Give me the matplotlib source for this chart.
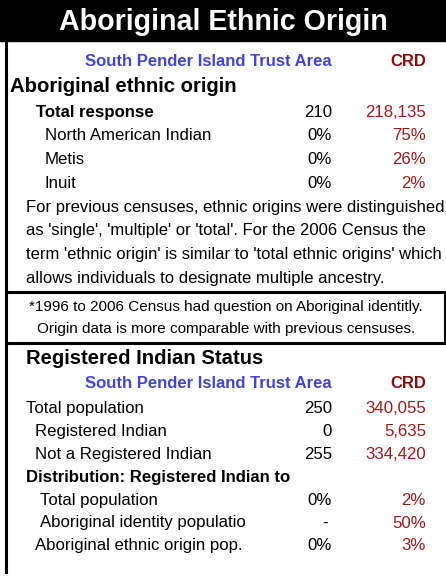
"""Aboriginal Ethnic Origin profile card: South Pender Island Trust Area vs CRD."""
import matplotlib; matplotlib.use("Agg")
import matplotlib.pyplot as plt

TITLE = "Aboriginal Ethnic Origin"
AREA = "South Pender Island Trust Area"
REGION = "CRD"

# section 1: aboriginal ethnic origin
origin_labels = ["Total response", "North American Indian", "Metis", "Inuit"]
origin_local = ["210", "0%", "0%", "0%"]
origin_crd = ["218,135", "75%", "26%", "2%"]

note_lines = ["For previous censuses, ethnic origins were distinguished",
              "as 'single', 'multiple' or 'total'. For the 2006 Census the",
              "term 'ethnic origin' is similar to 'total ethnic origins' which",
              "allows individuals to designate multiple ancestry."]
foot_lines = ["*1996 to 2006 Census had question on Aboriginal identitly.",
              "Origin data is more comparable with previous censuses."]

# section 2: registered indian status
status_labels = ["Total population", "Registered Indian", "Not a Registered Indian"]
status_local = ["250", "0", "255"]
status_crd = ["340,055", "5,635", "334,420"]

dist_labels = ["Total population", "Aboriginal identity populatio", "Aboriginal ethnic origin pop."]
dist_local = ["0%", "-", "0%"]
dist_crd = ["2%", "50%", "3%"]

BLUE, DARKRED, RED = "#4343d6", "#8b0a0a", "#9e1a1a"
plt.rcParams.update({"font.family": ["Liberation Sans", "DejaVu Sans"]})

W, H = 446, 577
fig = plt.figure(figsize=(W / 100, H / 100), dpi=100)
ax = fig.add_axes([0, 0, 1, 1])
ax.set_xlim(0, W); ax.set_ylim(H, 0); ax.axis("off")

# title bar + frame lines
ax.add_patch(plt.Rectangle((0, 0), W, 41, color="black", zorder=1))
ax.text(W / 2, 22, TITLE, color="white", fontsize=20.6, fontweight="bold", ha="center", va="center")
ax.plot([6, 6], [41, 572], color="black", lw=2.2)
ax.plot([6, 445, 445, 6], [292, 292, 343, 343], color="black", lw=2.2)

X_MID, X_CRD = 332, 426
FS = 12.1
DY = 1.5  # va=center sits a touch high for cap-height text


def header(y):
    ax.text(X_MID, y + DY, AREA, color=BLUE, fontsize=12, fontweight="bold", ha="right", va="center")
    ax.text(X_CRD, y + DY, REGION, color=DARKRED, fontsize=12, fontweight="bold", ha="right", va="center")


def row(y, x, label, local, crd, bold=False):
    y = y + DY
    ax.text(x, y, label, fontsize=FS, fontweight="bold" if bold else "normal", ha="left", va="center")
    if local == "-":
        ax.text(325, y, local, fontsize=FS, ha="center", va="center")
    else:
        ax.text(X_MID, y, local, fontsize=FS, ha="right", va="center")
    ax.text(X_CRD, y, crd, fontsize=FS, color=RED, ha="right", va="center")


header(60)
ax.text(10, 85 + DY, "Aboriginal ethnic origin", fontsize=14.6, fontweight="bold", ha="left", va="center")
for i, (lab, lo, cr) in enumerate(zip(origin_labels, origin_local, origin_crd)):
    row(111 + 23.5 * i, 36 if i == 0 else 45, lab, lo, cr, bold=(i == 0))
for i, line in enumerate(note_lines):
    ax.text(26, 206 + DY + 23.5 * i, line, fontsize=12, ha="left", va="center")
for i, line in enumerate(foot_lines):
    ax.text(226, 306 + DY + 22 * i, line, fontsize=11, ha="center", va="center")

ax.text(26, 357 + DY, "Registered Indian Status", fontsize=14.6, fontweight="bold", ha="left", va="center")
header(382)
for i, (lab, lo, cr) in enumerate(zip(status_labels, status_local, status_crd)):
    row(407 + 23 * i, 26 if i == 0 else 35, lab, lo, cr)
ax.text(26, 476 + DY, "Distribution: Registered Indian to", fontsize=FS, fontweight="bold",
        ha="left", va="center")
dist_x = [40, 40, 35]
for i, (lab, lo, cr) in enumerate(zip(dist_labels, dist_local, dist_crd)):
    row(499 + 22.5 * i, dist_x[i], lab, lo, cr)

fig.savefig("out.png", dpi=100)
